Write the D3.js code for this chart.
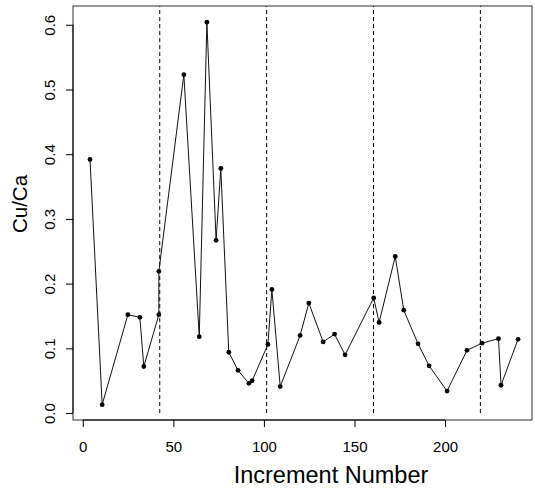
<!DOCTYPE html>
<html>
<head>
<meta charset="utf-8">
<script src="https://cdn.jsdelivr.net/npm/d3@7"></script>
<style>
  html, body { margin: 0; padding: 0; background: #fff; }
  svg { display: block; font-family: "Liberation Sans", Arial, sans-serif; }
</style>
</head>
<body>
<svg id="chart" width="535" height="493"></svg>
<script>
// Increment number of each sample along the shell
const increments = [4, 10.7, 24.9, 31.5, 33.7, 42, 42, 55.8, 64.3, 68.5, 73.6, 76.2,
  80.6, 85.7, 91.7, 93.5, 102.2, 104.4, 109, 120, 124.8, 132.7, 139, 144.8,
  160.6, 163.6, 172.5, 177.2, 185.1, 191.2, 201.1, 212.1, 220.4, 229.5, 230.9, 240.3];
// Cu/Ca ratio measured at each increment
const cuCa = [0.392, 0.013, 0.152, 0.148, 0.072, 0.152, 0.219, 0.523, 0.118, 0.604, 0.267, 0.378,
  0.094, 0.066, 0.046, 0.050, 0.106, 0.191, 0.041, 0.120, 0.170, 0.110, 0.122, 0.090,
  0.178, 0.140, 0.242, 0.159, 0.107, 0.073, 0.034, 0.097, 0.108, 0.115, 0.043, 0.114];
// Growth-band boundaries
const boundaries = [42.5, 101.5, 160.5, 219.5];
const xTicks = [0, 50, 100, 150, 200];
const yTicks = [0.0, 0.1, 0.2, 0.3, 0.4, 0.5, 0.6];

const svg = d3.select("#chart");
const plotL = 73, plotR = 532, plotT = 6, plotB = 420;

const x = d3.scaleLinear().domain([-5.4, 248]).range([plotL, plotR]);
const y = d3.scaleLinear().domain([-0.0107, 0.629]).range([plotB, plotT]);

// Dashed boundary lines
svg.append("g").selectAll("line").data(boundaries).join("line")
  .attr("x1", d => x(d)).attr("x2", d => x(d))
  .attr("y1", y(0)).attr("y2", plotT)
  .attr("stroke", "#000").attr("stroke-width", 1)
  .attr("stroke-dasharray", "4,3");

// Series line
const pts = increments.map((v, i) => [v, cuCa[i]]);
svg.append("path")
  .datum(pts)
  .attr("fill", "none")
  .attr("stroke", "#111")
  .attr("stroke-width", 1)
  .attr("d", d3.line().x(d => x(d[0])).y(d => y(d[1])));

// Points
svg.append("g").selectAll("circle").data(pts).join("circle")
  .attr("cx", d => x(d[0])).attr("cy", d => y(d[1]))
  .attr("r", 2.4).attr("fill", "#000");

// Plot frame
svg.append("rect")
  .attr("x", plotL).attr("y", plotT)
  .attr("width", plotR - plotL).attr("height", plotB - plotT)
  .attr("fill", "none").attr("stroke", "#333").attr("stroke-width", 1);

// X axis
const xAxis = d3.axisBottom(x).tickValues(xTicks).tickFormat(d3.format("d"))
  .tickSizeInner(7).tickSizeOuter(0).tickPadding(14);
const gx = svg.append("g").attr("transform", `translate(0,${plotB})`).call(xAxis);
gx.select(".domain").attr("d", `M${x(0)},0H${x(200)}`).attr("stroke", "#000");
gx.selectAll(".tick text").attr("font-size", 15).attr("fill", "#000")
  .attr("font-family", "Liberation Sans, Arial, sans-serif");

// Y axis with rotated labels
const yAxis = d3.axisLeft(y).tickValues(yTicks).tickFormat(d3.format(".1f"))
  .tickSizeInner(7).tickSizeOuter(0);
const gy = svg.append("g").attr("transform", `translate(${plotL},0)`).call(yAxis);
gy.select(".domain").attr("d", `M0,${y(0)}V${y(0.6)}`).attr("stroke", "#000");
gy.selectAll(".tick text")
  .attr("font-size", 15).attr("fill", "#000")
  .attr("font-family", "Liberation Sans, Arial, sans-serif")
  .attr("x", null).attr("dy", null)
  .attr("text-anchor", "middle")
  .attr("transform", "translate(-18,0) rotate(-90)");

// Axis titles
svg.append("text")
  .attr("x", 331).attr("y", 483)
  .attr("text-anchor", "middle")
  .attr("font-size", 23.5).attr("fill", "#000")
  .text("Increment Number");

svg.append("text")
  .attr("transform", "translate(27,204) rotate(-90)")
  .attr("text-anchor", "middle")
  .attr("font-size", 20.5).attr("fill", "#000")
  .text("Cu/Ca");
</script>
</body>
</html>
